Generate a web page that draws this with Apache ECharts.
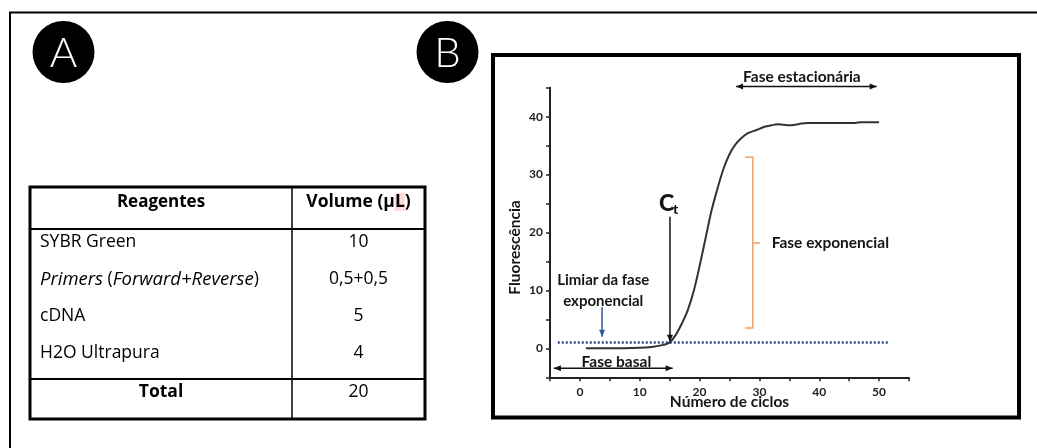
<!DOCTYPE html>
<html>
<head>
<meta charset="utf-8">
<script src="https://cdn.jsdelivr.net/npm/echarts@6/dist/echarts.min.js"></script>
<style>
  html, body { margin: 0; padding: 0; background: #fff; }
  #chart { width: 1037px; height: 448px; }
</style>
</head>
<body>
<div id="chart"></div>
<script>
// painel A: tabela de reagentes
const reagentes = ['SYBR Green', '{i|Primers} ({i|Forward+Reverse})', 'cDNA', 'H2O Ultrapura']
const volumes = ['10', '0,5+0,5', '5', '4']
const totalVolume = '20'

// painel B: curva de amplificacao
const ciclos = [1, 5, 10, 12, 14, 15, 16, 17, 18, 19, 20, 21, 22, 23, 24, 25, 26, 27, 28, 29, 30, 31, 32, 33, 34, 35, 36, 37, 38, 40, 42, 44, 46, 47, 48, 50]
const fluorescencia = [0, 0, 0.1, 0.25, 0.6, 1.0, 2.3, 4.2, 6.5, 9.8, 14.2, 19.0, 23.8, 27.6, 31.0, 33.5, 35.2, 36.3, 37.1, 37.5, 37.9, 38.3, 38.5, 38.7, 38.6, 38.5, 38.6, 38.8, 38.9, 38.9, 38.9, 38.9, 38.9, 39.05, 39.05, 39.05]
const limiarCiclos = [-3.7, 51.7]
const limiarValor = 1.0
const xTicks = [-5, 55, 5]
const yTicks = [-5, 45, 5]

// anotacoes (coordenadas de dados)
const setas = [
  { from: [15.05, 22.7], to: [15.05, 1.15], heads: [false, true], color: '#111' },
  { from: [3.7, 7.1], to: [3.7, 2.0], heads: [false, true], color: '#2f5a96' },
  { from: [-4.35, -3.45], to: [15.5, -3.45], heads: [true, true], color: '#111' },
  { from: [26.1, 45.2], to: [49.6, 45.2], heads: [true, true], color: '#111' }
]
const chave = { x: 28.9, x0: 27.6, tip: 30.1, top: 33.0, bottom: 3.5, mid: 18.2 }
const textos = [
  { pos: [37.1, 46.9], text: 'Fase estacionária', align: 'center', size: 15.5 },
  { pos: [32.05, 18.2], text: 'Fase exponencial', align: 'left', size: 15.5 },
  { pos: [3.9, 11.7], text: 'Limiar da fase', align: 'center', size: 15 },
  { pos: [3.9, 8.2], text: 'exponencial', align: 'center', size: 15 },
  { pos: [6.1, -2.3], text: 'Fase basal', align: 'center', size: 15.5 },
  { pos: [14.5, 25.0], text: 'C', align: 'center', size: 23, weight: 900 },
  { pos: [16.0, 24.0], text: 't', align: 'center', size: 14, weight: 900 }
]

const FONT = 'Lato, "Open Sans", sans-serif'
const TFONT = '"Open Sans", Lato, sans-serif'
const chartInstance = echarts.init(document.getElementById('chart'))

function arrowHead(p, q, color){
  // ponta em q, vindo de p
  const dx = q[0] - p[0], dy = q[1] - p[1]
  const len = Math.sqrt(dx * dx + dy * dy) || 1
  const ux = dx / len, uy = dy / len
  const L = 7, W = 3
  return {
    type: 'polygon',
    shape: { points: [q, [q[0] - ux * L - uy * W, q[1] - uy * L + ux * W], [q[0] - ux * L + uy * W, q[1] - uy * L - ux * W]] },
    style: { fill: color }
  }
}

function renderSeta(params, api){
  const s = setas[params.dataIndex]
  const p1 = api.coord(s.from)
  const p2 = api.coord(s.to)
  const children = [{
    type: 'line',
    shape: { x1: p1[0], y1: p1[1], x2: p2[0], y2: p2[1] },
    style: { stroke: s.color, lineWidth: 1.5 }
  }]
  if (s.heads[0]) children.push(arrowHead(p2, p1, s.color))
  if (s.heads[1]) children.push(arrowHead(p1, p2, s.color))
  return { type: 'group', children }
}

function renderChave(params, api){
  const top = api.coord([chave.x, chave.top])
  const bot = api.coord([chave.x, chave.bottom])
  const x0 = api.coord([chave.x0, 0])[0]
  const a = api.coord([chave.x, chave.mid])
  const b = api.coord([chave.tip, chave.mid])
  const st = { stroke: '#f0a266', lineWidth: 1.5, fill: null }
  return {
    type: 'group',
    children: [
      { type: 'polyline', shape: { points: [[x0, top[1]], top, bot, [x0, bot[1]]] }, style: st },
      { type: 'line', shape: { x1: a[0], y1: a[1], x2: b[0], y2: b[1] }, style: st }
    ]
  }
}

function renderTexto(params, api){
  const t = textos[params.dataIndex]
  const p = api.coord(t.pos)
  return {
    type: 'text',
    x: p[0], y: p[1],
    style: { text: t.text, fill: '#151515', fontFamily: FONT, fontWeight: t.weight || 'bold', fontSize: t.size, align: t.align, verticalAlign: 'middle' }
  }
}

// tabela (painel A)
const tLeft = 30, tRight = 425, tTop = 187, tBottom = 419, tCol = 292
const rowY0 = 242.5, rowStep = 37
const tabela = [
  { type: 'rect', shape: { x: tLeft, y: tTop, width: tRight - tLeft, height: tBottom - tTop }, style: { fill: null, stroke: '#000', lineWidth: 3 } },
  { type: 'line', shape: { x1: tCol, y1: tTop, x2: tCol, y2: tBottom }, style: { stroke: '#000', lineWidth: 1.5 } },
  { type: 'line', shape: { x1: tLeft, y1: 229, x2: tRight, y2: 229 }, style: { stroke: '#000', lineWidth: 2 } },
  { type: 'line', shape: { x1: tLeft, y1: 379, x2: tRight, y2: 379 }, style: { stroke: '#000', lineWidth: 2 } },
  { type: 'text', x: (tLeft + tCol) / 2, y: 202, style: { text: 'Reagentes', font: 'bold 17px ' + TFONT, fill: '#000', align: 'center', verticalAlign: 'middle' } },
  { type: 'text', x: (tCol + tRight) / 2, y: 202, style: {
    text: 'Volume (μ{h|L})', fontFamily: TFONT, fontWeight: 'bold', fontSize: 17.5, fill: '#000', align: 'center', verticalAlign: 'middle',
    rich: { h: { fontFamily: TFONT, fontWeight: 'bold', fontSize: 17.5, fill: '#000', backgroundColor: 'rgba(240,140,140,0.3)' } }
  } },
  { type: 'text', x: (tLeft + tCol) / 2, y: 392.5, style: { text: 'Total', font: 'bold 17.5px ' + TFONT, fill: '#000', align: 'center', verticalAlign: 'middle' } },
  { type: 'text', x: (tCol + tRight) / 2, y: 392.5, style: { text: totalVolume, font: '17.5px ' + TFONT, fill: '#000', align: 'center', verticalAlign: 'middle' } }
]
reagentes.forEach((r, i) => {
  tabela.push({ type: 'text', x: 40, y: rowY0 + i * rowStep, style: {
    text: r, fontFamily: TFONT, fontSize: 17.5, fill: '#000', align: 'left', verticalAlign: 'middle',
    rich: { i: { fontFamily: TFONT, fontSize: 18.5, fontStyle: 'italic', fill: '#000' } }
  } })
  tabela.push({ type: 'text', x: (tCol + tRight) / 2, y: rowY0 + i * rowStep, style: {
    text: volumes[i], font: '17.5px ' + TFONT, fill: '#000', align: 'center', verticalAlign: 'middle'
  } })
})

function circulo(cx, letra){
  return [
    { type: 'circle', shape: { cx: cx, cy: 52, r: 31 }, style: { fill: '#000' } },
    { type: 'text', x: cx, y: 53, style: { text: letra, font: '300 42px ' + FONT, fill: '#fff', align: 'center', verticalAlign: 'middle' } }
  ]
}

const option = {
  animation: false,
  backgroundColor: '#fff',
  graphic: [
    { type: 'rect', shape: { x: 10, y: 12.5, width: 1060, height: 460 }, style: { fill: null, stroke: '#000', lineWidth: 2 } },
    { type: 'rect', shape: { x: 493, y: 55, width: 526, height: 362.5 }, style: { fill: null, stroke: '#000', lineWidth: 4 } },
    ...circulo(63.5, 'A'),
    ...circulo(447.5, 'B'),
    ...tabela
  ],
  grid: { left: 550, right: 128, top: 87.7, bottom: 70.7, outerBoundsMode: 'none', containLabel: false },
  xAxis: {
    type: 'value', min: xTicks[0], max: xTicks[1], interval: xTicks[2],
    name: 'Número de ciclos', nameLocation: 'middle', nameGap: 17, nameMoveOverlap: false,
    nameTextStyle: { fontFamily: FONT, fontWeight: 'bold', fontSize: 15.5, color: '#151515' },
    axisLine: { onZero: false, lineStyle: { color: '#222', width: 2 } },
    axisTick: { show: true, length: 4, lineStyle: { color: '#222', width: 1.5 } },
    axisLabel: { margin: 9, fontFamily: FONT, fontWeight: 'bold', fontSize: 12, color: '#222',
      formatter: v => (v % 10 === 0 ? String(v) : '') },
    splitLine: { show: false }
  },
  yAxis: {
    type: 'value', min: yTicks[0], max: yTicks[1], interval: yTicks[2],
    name: 'Fluorescência', nameLocation: 'middle', nameGap: 27, nameMoveOverlap: false,
    nameTextStyle: { fontFamily: FONT, fontWeight: 'bold', fontSize: 15.5, color: '#151515', padding: [0, 30, 0, 0] },
    axisLine: { onZero: false, lineStyle: { color: '#222', width: 2 } },
    axisTick: { show: true, length: 4, lineStyle: { color: '#222', width: 1.5 } },
    axisLabel: { margin: 7, fontFamily: FONT, fontWeight: 'bold', fontSize: 12, color: '#222',
      formatter: v => (v % 10 === 0 ? String(v) : '') },
    splitLine: { show: false }
  },
  series: [
    {
      type: 'line', name: 'limiar',
      data: limiarCiclos.map(c => [c, limiarValor]),
      showSymbol: false, silent: true,
      lineStyle: { color: '#2f4f8a', width: 2.5, type: [2, 2] }
    },
    {
      type: 'line', name: 'curva',
      data: ciclos.map((c, i) => [c, fluorescencia[i]]),
      smooth: 0.35, showSymbol: false,
      lineStyle: { color: '#333', width: 2 }
    },
    { type: 'custom', clip: false, silent: true, renderItem: renderSeta, data: setas.map(s => s.from) },
    { type: 'custom', clip: false, silent: true, renderItem: renderChave, data: [[chave.x, chave.top]] },
    { type: 'custom', clip: false, silent: true, renderItem: renderTexto, data: textos.map(t => t.pos) }
  ]
}
chartInstance.setOption(option)
</script>
</body>
</html>
